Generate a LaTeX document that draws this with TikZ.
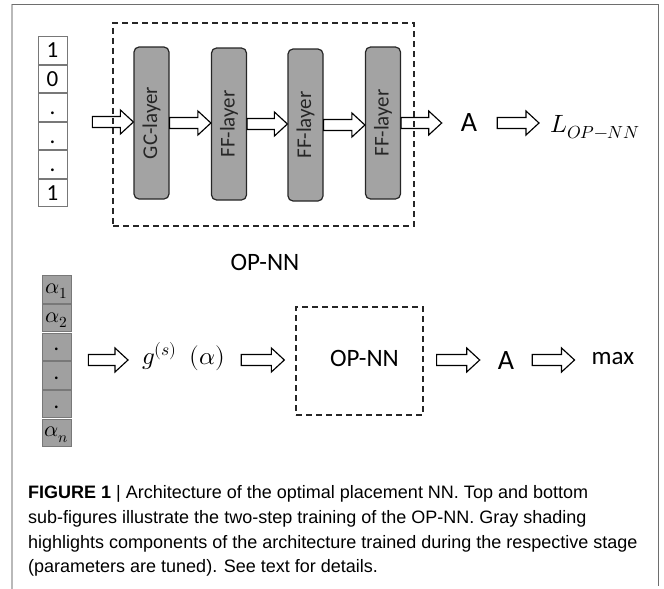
\documentclass[tikz,border=0pt]{standalone}
\usepackage{fontspec}
\usepackage{unicode-math}
\setmainfont{Carlito}
\setmathfont{Latin Modern Math}
\newfontfamily\capfont{Liberation Sans}
\usetikzlibrary{calc}
\definecolor{layergray}{RGB}{163,163,163}
\definecolor{cellgray}{RGB}{160,160,160}
\definecolor{celledge}{RGB}{120,120,120}
\definecolor{frameA}{RGB}{110,110,110}
\definecolor{frameB}{RGB}{185,185,185}
\tikzset{
  vcell/.style={draw=celledge, line width=0.8pt, fill=white, minimum width=29pt, minimum height=27.5pt, inner sep=0pt, text height=14.5pt, text depth=0pt, font=\fontsize{23}{25}\selectfont},
  acell/.style={draw=celledge, line width=0.8pt, fill=cellgray, minimum width=29pt, minimum height=27.5pt, inner sep=0pt, text height=12pt, text depth=4pt, font=\fontsize{22}{24}\selectfont},
  layer/.style={draw=black!85, line width=1.2pt, fill=layergray, rounded corners=5pt, minimum width=35pt, minimum height=152pt, inner sep=0pt, font=\fontsize{21}{23}\selectfont, text=black!85},
  dashbox/.style={draw=black!85, line width=1.3pt, dash pattern=on 6pt off 4pt, minimum width=#1, inner sep=0pt},
  lbl/.style={inner sep=0pt, font=\fontsize{25}{27}\selectfont},
  biglbl/.style={inner sep=0pt, font=\fontsize{28}{30}\selectfont},
  mathlbl/.style={inner sep=0pt, font=\fontsize{25}{27}\selectfont},
  barrow/.style={draw=black, line width=1.15pt, line join=miter},
  captext/.style={inner sep=0pt, anchor=base west, font=\capfont\fontsize{18}{24}\selectfont}
}
\newcommand\blockarrow[2]{\draw[barrow] let \p1=#1, \p2=#2 in
  (\x1,\y1+5.5pt) -- (\x2-13pt,\y1+5.5pt) -- (\x2-13pt,\y1+12pt) -- (\x2,\y1)
  -- (\x2-13pt,\y1-12pt) -- (\x2-13pt,\y1-5.5pt) -- (\x1,\y1-5.5pt) -- cycle;}
\begin{document}
\begin{tikzpicture}[x=1pt,y=-1pt]
\useasboundingbox (0,0) rectangle (664,589);
% frame
\draw[frameB, line width=2pt] (12,589) -- (12,4);
\draw[frameA, line width=1pt] (12,4) -- (658,4);
\draw[frameA, line width=1pt] (658,4) -- (658,586);
\coordinate (row1) at (0,122);
\coordinate (row2) at (0,360);
% ---------- top ----------
\node[vcell] (v1) at (52.5,50.25) {1};
\node[vcell] (v2) at (52.5,78.75) {0};
\node[vcell] (v3) at (52.5,107.25) {.};
\node[vcell] (v4) at (52.5,135.75) {.};
\node[vcell] (v5) at (52.5,164.25) {.};
\node[vcell] (v6) at (52.5,192.75) {1};
\node[layer] (gc) at (151.5,123) {\rotatebox{90}{GC-layer}};
\node[layer] (ff1) at (229,124) {\rotatebox{90}{FF-layer}};
\node[layer] (ff2) at (305.5,125) {\rotatebox{90}{FF-layer}};
\node[layer] (ff3) at (383,123) {\rotatebox{90}{FF-layer}};
\node[biglbl] (atop) at (469,123) {A};
\node[mathlbl, anchor=base west] (lop) at (550,132) {$L_{OP-NN}$};
\blockarrow{($(v1.east |- row1)+(25,0)$)}{(gc.west)}
\blockarrow{(gc.east)}{(ff1.west)}
\blockarrow{(ff1.east)}{(ff2.west)}
\blockarrow{(ff2.east)}{(ff3.west)}
\blockarrow{(ff3.east)}{([xshift=-19pt]atop.west)}
\blockarrow{([xshift=20pt]atop.east)}{([xshift=-11pt]lop.west)}
\node[dashbox=301pt, minimum height=203pt] (opnn) at (263.5,124.5) {};
\node[lbl] (opnnlbl) at (265,262) {OP-NN};
% ---------- bottom ----------
\node[acell] (a1) at (56.5,289.3) {$\alpha_1$};
\node[acell] (a2) at (56.5,318) {$\alpha_2$};
\node[acell] (a3) at (56.5,346.7) {.};
\node[acell] (a4) at (56.5,375.3) {.};
\node[acell] (a5) at (56.5,404) {.};
\node[acell] (a6) at (56.5,432.7) {$\alpha_n$};
\node[mathlbl, anchor=west] (g) at (142,357) {$g^{(s)}\enspace(\alpha)$};
\node[dashbox=127pt, minimum height=108pt] (opnn2) at (359.5,361) {};
\node[lbl] (opnn2lbl) at (364.5,358) {OP-NN};
\node[biglbl] (abot) at (506,361) {A};
\node[lbl] (mx) at (613,359) {max};
\blockarrow{($(a1.east |- row2)+(17,0)$)}{([xshift=-14pt]g.west)}
\blockarrow{($(g.east |- row2)+(16,0)$)}{([xshift=-11pt]opnn2.west)}
\blockarrow{($(opnn2.east |- row2)+(13,0)$)}{([xshift=-18pt]abot.west)}
\blockarrow{($(abot.east |- row2)+(18,0)$)}{([xshift=-17pt]mx.west)}
% ---------- caption ----------
\node[captext] (c1) at (28,498) {\textbf{FIGURE 1} | Architecture of the optimal placement NN. Top and bottom};
\node[captext] (c2) at (28,523) {sub-figures illustrate the two-step training of the OP-NN. Gray shading};
\node[captext] (c3) at (28,548) {highlights components of the architecture trained during the respective stage};
\node[captext] (c4) at (28,572) {(parameters are tuned). See text for details.};
\end{tikzpicture}
\end{document}
